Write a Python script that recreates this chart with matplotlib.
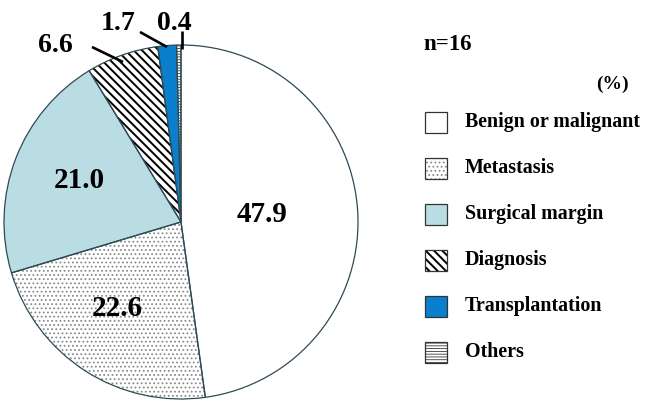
import matplotlib
matplotlib.use("Agg")
import matplotlib.pyplot as plt
from matplotlib.patches import Rectangle

categories = ["Benign or malignant", "Metastasis", "Surgical margin",
              "Diagnosis", "Transplantation", "Others"]
values = [47.9, 22.6, 21.0, 6.6, 1.7, 0.4]
value_labels = ["47.9", "22.6", "21.0", "6.6", "1.7", "0.4"]

colors = ["white", "white", "#b9dde3", "white", "#0a7fce", "white"]
hatches = [None, "....", None, "\\\\\\\\", None, "------"]
hatch_colors = ["none", "#8a8a8a", "none", "black", "none", "#333333"]
hatch_widths = [1.0, 0.8, 1.0, 1.4, 1.0, 0.6]
outline = "#2f4a55"

plt.rcParams["font.family"] = ["Liberation Serif", "DejaVu Serif"]
plt.rcParams["font.weight"] = "bold"

W, H = 645, 400
fig = plt.figure(figsize=(W / 100, H / 100), dpi=100)
cx, cy, r = 181, 222, 177
ax = fig.add_axes([(cx - r) / W, 1 - (cy + r) / H, 2 * r / W, 2 * r / H])
ax.set_aspect("equal")


def style_hatch(patch, i):
    if hatches[i]:
        patch.set_hatch(hatches[i])
        patch.set_edgecolor(hatch_colors[i])
        if hasattr(patch, "set_hatch_linewidth"):
            patch.set_hatch_linewidth(hatch_widths[i])
        else:
            patch._hatch_linewidth = hatch_widths[i]


# filled wedges (hatch colour carried by the edge colour, edge itself hidden)
fills, _ = ax.pie(values, colors=colors, startangle=90, counterclock=False,
                  radius=1.0, wedgeprops=dict(linewidth=0))
for i, w in enumerate(fills):
    style_hatch(w, i)

# outlines on top
outs, _ = ax.pie(values, startangle=90, counterclock=False, radius=1.0,
                 wedgeprops=dict(facecolor="none", edgecolor=outline,
                                 linewidth=0.9))

ax.set_xlim(-1, 1)
ax.set_ylim(-1, 1)
ax.axis("off")


def px(x, y):
    return ((x - cx) / r, (cy - y) / r)


# labels inside the slices
inside = {0: (262, 215), 1: (117, 308), 2: (79, 180)}
for i, pos in inside.items():
    x, y = px(*pos)
    ax.text(x, y, value_labels[i], ha="center", va="center",
            fontsize=21, fontweight="bold")

# labels outside the thin slices, with leader lines
outside = {
    3: ((55, 45), (92, 47), (123, 62)),
    4: ((118, 23), (140, 32), (167, 47)),
    5: ((174, 23), (182, 31), (182, 49)),
}
for i, (tpos, p0, p1) in outside.items():
    tx, ty = px(*tpos)
    ax.text(tx, ty, value_labels[i], ha="center", va="center",
            fontsize=20, fontweight="bold", clip_on=False)
    x0, y0 = px(*p0)
    x1, y1 = px(*p1)
    ax.plot([x0, x1], [y0, y1], color="black", lw=1.9, clip_on=False,
            solid_capstyle="butt")

# header and legend, laid out in pixel coordinates
lax = fig.add_axes([0, 0, 1, 1], zorder=-1)
lax.set_xlim(0, W)
lax.set_ylim(H, 0)
lax.axis("off")

lax.text(423, 45, "n=16", fontsize=16.5, fontweight="bold",
         ha="left", va="center")
lax.text(612, 84, "(%)", fontsize=14, fontweight="bold",
         ha="center", va="center")

row0, step = 122, 46
for i, name in enumerate(categories):
    yc = row0 + i * step
    sq = Rectangle((425, yc - 10.5), 22, 21, facecolor=colors[i],
                   linewidth=0)
    style_hatch(sq, i)
    lax.add_patch(sq)
    lax.add_patch(Rectangle((425, yc - 10.5), 22, 21, facecolor="none",
                            edgecolor="#333333", linewidth=0.9))
    lax.text(465, yc, name, fontsize=14.4, fontweight="bold",
             ha="left", va="center")

fig.savefig("out.png", dpi=100, facecolor="white")
